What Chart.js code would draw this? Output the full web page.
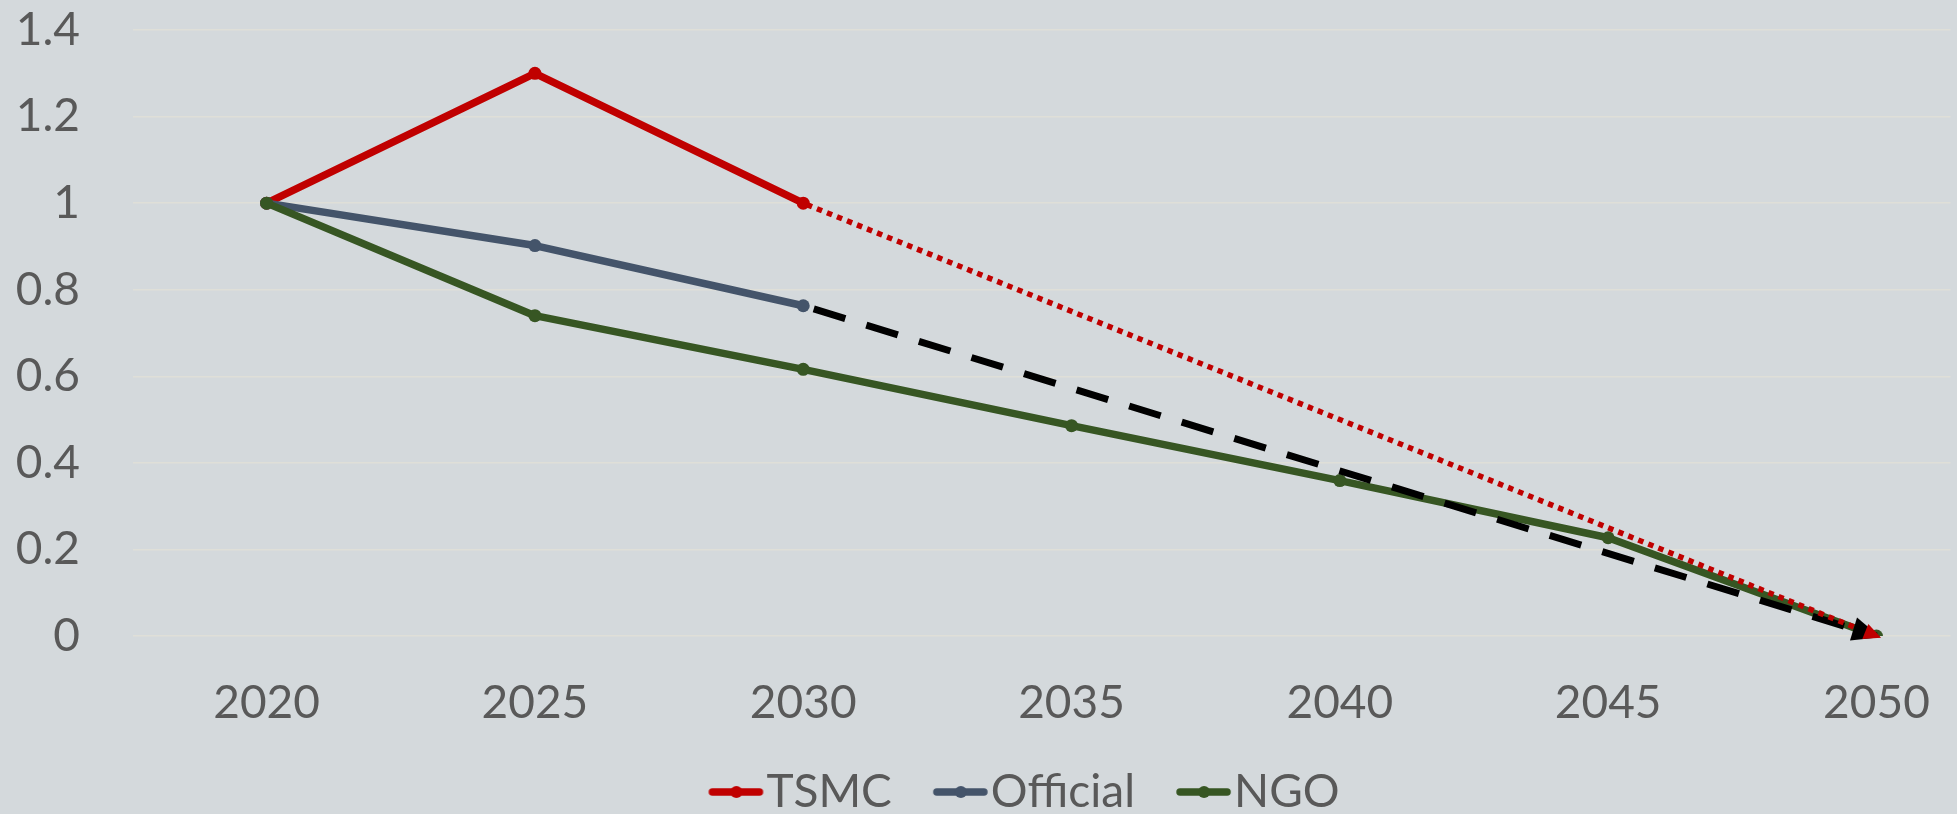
<!DOCTYPE html>
<html>
<head>
<meta charset="utf-8">
<script src="https://cdn.jsdelivr.net/npm/chart.js@4.4.1/dist/chart.umd.min.js"></script>
<style>
  html, body { margin: 0; padding: 0; background: #d4d9dc; overflow: hidden; }
  #wrap { position: relative; width: 1957px; height: 834px; }
</style>
</head>
<body>
<div id="wrap"><canvas id="chart"></canvas></div>
<script>
// Indice d'émissions (2020 = 1)
const years = [2020, 2025, 2030, 2035, 2040, 2045, 2050];
const tsmc = [1, 1.3, 1, null, null, null, null];
const official = [1, 0.902, 0.763, null, null, null, null];
const ngo = [1, 0.74, 0.616, 0.486, 0.359, 0.227, 0];
// trajectoires 2030 -> 2050 (flèches)
const tsmcTarget = [null, null, 1, null, null, null, 0];
const officialTarget = [null, null, 0.763, null, null, null, 0];
const yTicks = [0, 0.2, 0.4, 0.6, 0.8, 1, 1.2, 1.4];

const RED = '#c00000';
const BLUE = '#44546a';
const GREEN = '#375623';
const TEXT = '#595959';

function toPoints(values) {
    return values.map((v, i) => ({ x: years[i], y: v }));
}

// petit trait + point pour la légende
function legendMarker(color) {
    const c = document.createElement('canvas');
    c.width = 108;
    c.height = 18;
    const g = c.getContext('2d');
    g.strokeStyle = color;
    g.lineWidth = 7.5;
    g.lineCap = 'round';
    g.beginPath();
    g.moveTo(56, 9);
    g.lineTo(103, 9);
    g.stroke();
    g.fillStyle = color;
    g.beginPath();
    g.arc(80, 9, 6, 0, Math.PI * 2);
    g.fill();
    return c;
}

// pointe de flèche au bout des trajectoires
const arrowHeads = {
    id: 'arrowHeads',
    afterDatasetsDraw(chart) {
        const ctx = chart.ctx;
        const heads = [
            { index: 4, color: '#000000', len: 28, half: 12, push: 4 },
            { index: 3, color: RED, len: 17, half: 8, push: 5 }
        ];
        heads.forEach(h => {
            const pts = chart.getDatasetMeta(h.index).data.filter(p => !p.skip);
            const a = pts[pts.length - 2];
            const b = pts[pts.length - 1];
            const dx = b.x - a.x, dy = b.y - a.y;
            const d = Math.hypot(dx, dy);
            const ux = dx / d, uy = dy / d;
            const tx = b.x + ux * h.push, ty = b.y + uy * h.push;
            const bx = tx - ux * h.len, by = ty - uy * h.len;
            ctx.save();
            ctx.fillStyle = h.color;
            ctx.beginPath();
            ctx.moveTo(tx, ty);
            ctx.lineTo(bx - uy * h.half, by + ux * h.half);
            ctx.lineTo(bx + uy * h.half, by - ux * h.half);
            ctx.closePath();
            ctx.fill();
            ctx.restore();
        });
    }
};

// décale la légende un peu vers la droite
const legendShift = {
    id: 'legendShift',
    afterLayout(chart) {
        if (chart.legend) chart.legend.left += 60;
    }
};

const solid = (label, data, color, order) => ({
    label: label,
    data: toPoints(data),
    borderColor: color,
    backgroundColor: color,
    borderWidth: 7.5,
    borderCapStyle: 'round',
    borderJoinStyle: 'round',
    pointRadius: 6.5,
    pointBorderWidth: 0,
    pointBackgroundColor: color,
    tension: 0,
    order: order
});

// pas de marge automatique autour des libellés d'axes
const noPadding = scale => {
    scale.paddingTop = 0;
    scale.paddingBottom = 0;
    scale.paddingLeft = 0;
    scale.paddingRight = 0;
};

Chart.defaults.font.family = 'Lato';
Chart.defaults.color = TEXT;

new Chart(document.getElementById('chart'), {
    type: 'line',
    data: {
        datasets: [
            solid('TSMC', tsmc, RED, 4),
            solid('Official', official, BLUE, 3),
            solid('NGO', ngo, GREEN, 2),
            {
                label: '',
                data: toPoints(tsmcTarget),
                borderColor: RED,
                borderWidth: 5.5,
                borderDash: [5.5, 5.3],
                borderDashOffset: -4,
                borderCapStyle: 'butt',
                pointRadius: 0,
                spanGaps: true,
                order: 0
            },
            {
                label: '',
                data: toPoints(officialTarget),
                borderColor: '#000000',
                borderWidth: 7,
                borderDash: [33, 22],
                borderDashOffset: 44,
                borderCapStyle: 'butt',
                pointRadius: 0,
                spanGaps: true,
                order: 1
            }
        ]
    },
    options: {
        responsive: true,
        maintainAspectRatio: false,
        animation: false,
        layout: {
            padding: { top: 30, left: 0, right: 0, bottom: 9 }
        },
        plugins: {
            tooltip: { enabled: false },
            legend: {
                position: 'bottom',
                labels: {
                    font: { size: 46 },
                    color: TEXT,
                    usePointStyle: true,
                    pointStyleWidth: 66,
                    padding: 10,
                    filter: item => item.text !== '',
                    generateLabels: chart => {
                        const items = Chart.defaults.plugins.legend.labels.generateLabels(chart);
                        items.sort((a, b) => a.datasetIndex - b.datasetIndex);
                        items.forEach(item => {
                            const ds = chart.data.datasets[item.datasetIndex];
                            item.pointStyle = legendMarker(ds.borderColor);
                        });
                        return items;
                    }
                }
            }
        },
        scales: {
            x: {
                type: 'linear',
                min: 2017.51,
                max: 2051.38,
                afterBuildTicks: scale => { scale.ticks = years.map(v => ({ value: v })); },
                afterFit: scale => { scale.height = 123; noPadding(scale); },
                grid: { display: false, drawTicks: false },
                border: { display: false },
                ticks: {
                    font: { size: 46 },
                    color: TEXT,
                    padding: 40,
                    maxRotation: 0,
                    callback: v => String(v)
                }
            },
            y: {
                min: 0,
                max: 1.4,
                afterBuildTicks: scale => { scale.ticks = yTicks.map(v => ({ value: v })); },
                afterFit: scale => { scale.width = 133; noPadding(scale); },
                grid: { color: '#dfdfd8', lineWidth: 1.5, drawTicks: false },
                border: { display: false },
                ticks: {
                    font: { size: 46 },
                    color: TEXT,
                    padding: 53,
                    callback: v => String(v)
                }
            }
        }
    },
    plugins: [arrowHeads, legendShift]
});
</script>
</body>
</html>
